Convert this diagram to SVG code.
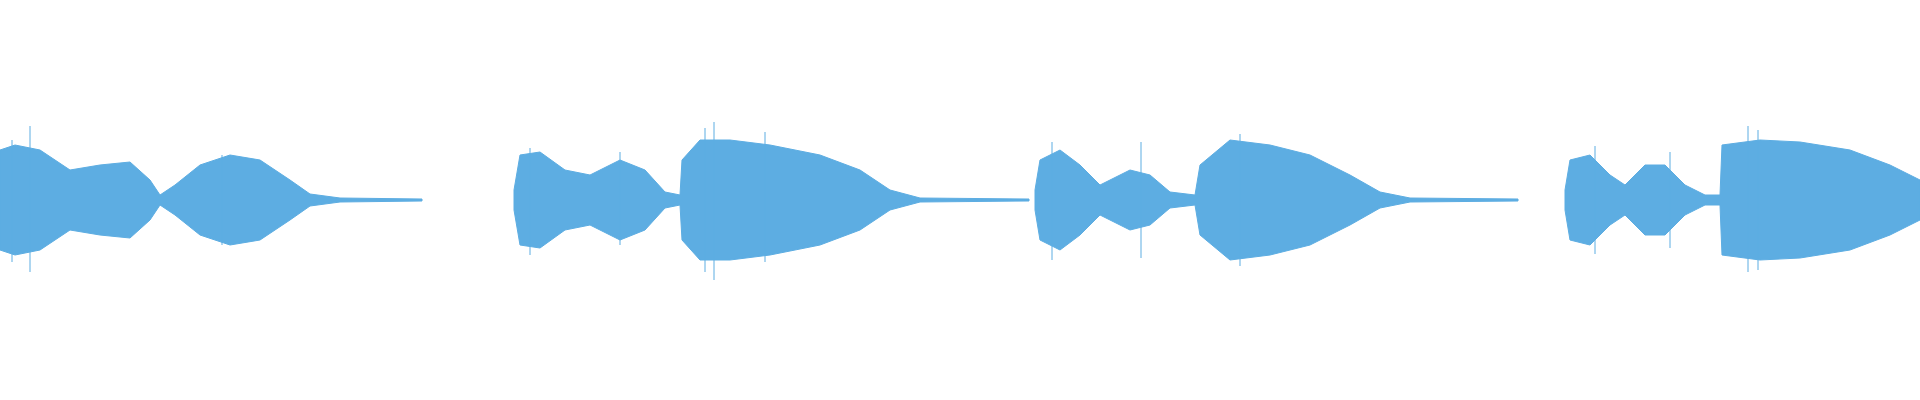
<svg xmlns="http://www.w3.org/2000/svg" width="1920" height="400" viewBox="0 0 1920 400">
<style>.env{fill:#5dade2;stroke:#5dade2;stroke-width:1}.sp{stroke:#5dade2;stroke-width:1}</style>
<rect width="1920" height="400" fill="#fff"/>
<polygon class="env" points="0,150 15,145 40,150 70,170 100,165 130,162 150,180 160,195 175,185 200,165 230,155 260,160 290,180 310,194 340,198 422,199 422,201 340,202 310,206 290,220 260,240 230,245 200,235 175,215 160,205 150,220 130,238 100,235 70,230 40,250 15,255 0,250"/>
<polygon class="env" points="514,190 520,155 540,152 565,170 590,175 620,160 645,170 665,192 680,195 682,160 700,140 730,140 770,145 820,155 860,170 890,190 920,198 1029,199 1029,201 920,202 890,210 860,230 820,245 770,255 730,260 700,260 682,240 680,205 665,208 645,230 620,240 590,225 565,230 540,248 520,245 514,210"/>
<polygon class="env" points="1035,190 1040,160 1060,150 1080,165 1100,185 1110,180 1130,170 1150,175 1170,192 1195,195 1200,165 1230,140 1270,145 1310,155 1350,175 1380,192 1410,198 1518,199 1518,201 1410,202 1380,208 1350,225 1310,245 1270,255 1230,260 1200,235 1195,205 1170,208 1150,225 1130,230 1110,220 1100,215 1080,235 1060,250 1040,240 1035,210"/>
<polygon class="env" points="1565,190 1570,160 1590,155 1610,175 1625,185 1645,165 1665,165 1685,185 1705,195 1720,195 1722,145 1760,140 1800,142 1850,150 1890,165 1920,180 1920,220 1890,235 1850,250 1800,258 1760,260 1722,255 1720,205 1705,205 1685,215 1665,235 1645,235 1625,215 1610,225 1590,245 1570,240 1565,210"/>
<g>
<line class="sp" x1="30" y1="126" x2="30" y2="272"/><line class="sp" x1="12" y1="140" x2="12" y2="262"/><line class="sp" x1="222" y1="155" x2="222" y2="245"/>
<line class="sp" x1="530" y1="148" x2="530" y2="255"/><line class="sp" x1="620" y1="152" x2="620" y2="245"/>
<line class="sp" x1="705" y1="128" x2="705" y2="272"/><line class="sp" x1="714" y1="122" x2="714" y2="280"/><line class="sp" x1="765" y1="132" x2="765" y2="262"/>
<line class="sp" x1="1052" y1="142" x2="1052" y2="260"/><line class="sp" x1="1141" y1="142" x2="1141" y2="258"/><line class="sp" x1="1240" y1="134" x2="1240" y2="266"/>
<line class="sp" x1="1595" y1="146" x2="1595" y2="254"/><line class="sp" x1="1670" y1="152" x2="1670" y2="248"/><line class="sp" x1="1748" y1="126" x2="1748" y2="272"/><line class="sp" x1="1758" y1="130" x2="1758" y2="270"/>
</g>
</svg>
